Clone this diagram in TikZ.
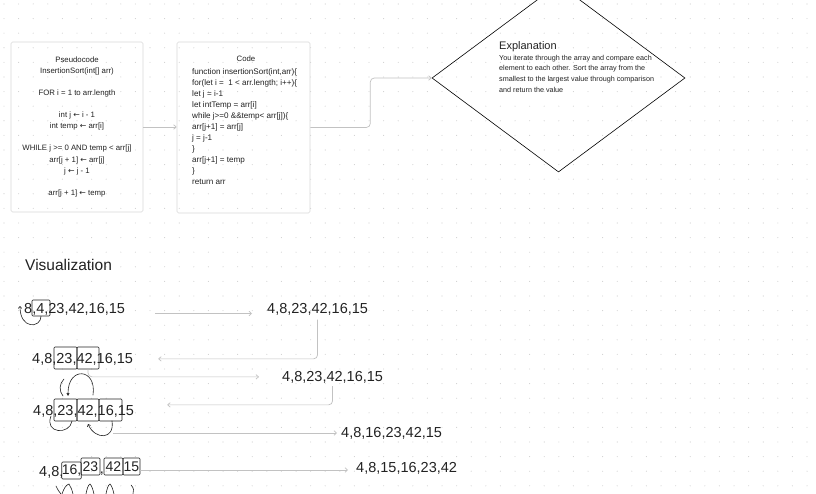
\documentclass[tikz,border=0pt]{standalone}
\usepackage{fontspec}
\setmainfont{Liberation Sans}
\newfontfamily\symfont{DejaVu Sans}
\usetikzlibrary{shapes.geometric,arrows.meta}
\definecolor{conngray}{HTML}{C2C2C2}
\definecolor{dotgray}{HTML}{D0D0D0}
\definecolor{boxgray}{HTML}{DADADA}
\definecolor{ink}{HTML}{222222}
\newcommand{\larr}{{\symfont ←}}
\tikzset{
  connector/.style={draw=conngray, line width=0.7pt, rounded corners=4pt, -{Straight Barb[length=2.5pt,width=4.5pt]}},
  panel/.style={draw=boxgray, line width=0.6pt, rounded corners=1.5pt, minimum width=132pt, minimum height=170pt, inner sep=0pt},
  small/.style={font=\fontsize{7.8}{11.4}\selectfont, text=ink, inner sep=0pt},
  vrow/.style={font=\fontsize{14.5}{16}\selectfont, text=ink, inner sep=0pt, anchor=base west},
  vbox/.style={draw=ink, line width=0.6pt, rounded corners=1pt, inner sep=0pt, font=\fontsize{14}{16}\selectfont, text=ink},
  hand/.style={draw=ink, line width=0.6pt, line cap=round},
  handtip/.style={-{Straight Barb[length=2pt,width=3.5pt]}}
}
\begin{document}
\begin{tikzpicture}[x=1pt,y=-1pt]
\useasboundingbox (0,0) rectangle (816,494);
\clip (0,0) rectangle (816,494);
\fill[white] (0,0) rectangle (816,494);
% dotted grid
\foreach \i in {0,...,55} \foreach \j in {0,...,33}
  \fill[dotgray] ({4+14.6*\i},{4+14.6*\j}) circle (0.55pt);

% Pseudocode panel
\node[panel] (pseudo) at (77,127) {};
\node[small, align=center, anchor=north] (ptext) at (77,56.3)
 {Pseudocode\\InsertionSort(int[] arr)\\[10.6pt]FOR i = 1 to arr.length\\[10.6pt]int j \larr{} i - 1\\int temp \larr{} arr[i]\\[10.6pt]WHILE j >= 0 AND temp < arr[j]\\arr[j + 1] \larr{} arr[j]\\j \larr{} j - 1\\[10.6pt]arr[j + 1] \larr{} temp};

% Code panel
\node[panel, minimum width=133pt, minimum height=171pt] (code) at (243.5,127.5) {};
\node[small, anchor=base] (ctitle) at (246,61.7) {Code};
\node[small, align=left, anchor=north west, font=\fontsize{8.1}{11}\selectfont] (ctext) at (192,68.0)
 {function insertionSort(int,arr)\{\\for(let i =\ \ 1 < arr.length; i++)\{\\let j = i-1\\let intTemp = arr[i]\\while j>=0 \&\&temp< arr[j])\{\\arr[j+1] = arr[j]\\j = j-1\\\}\\arr[j+1] = temp\\\}\\return arr};

% Explanation diamond
\node[draw=black, shape=diamond, minimum width=253pt, minimum height=188pt, inner sep=0pt, line width=0.6pt] (expl) at (558.5,78) {};
\node[anchor=base west, font=\fontsize{11}{13}\selectfont, inner sep=0pt, text=ink] (etitle) at (499,49.5) {Explanation};
\node[anchor=north west, align=left, font=\fontsize{7.2}{10.7}\selectfont, inner sep=0pt, text=ink] (etext) at (499,54.7)
 {You iterate through the array and compare each\\element to each other. Sort the array from the\\smallest to the largest value through comparison\\and return the value};

\draw[connector] (pseudo.east) -- (pseudo.east -| code.west);
\draw[connector] (code.east) -- ++(60,0) |- (expl.west);

% Visualization
\node[anchor=base west, font=\fontsize{15.5}{17}\selectfont, inner sep=0pt, text=ink] (vis) at (25,270) {Visualization};

\node[vrow] (r1a) at (24,313.5) {8,4,23,42,16,15};
\node[vrow] (r1b) at (267,313.5) {4,8,23,42,16,15};
\node[vrow] (r2a) at (32,363) {4,8,23,42,16,15};
\node[vrow] (r2b) at (282,381) {4,8,23,42,16,15};
\node[vrow] (r3a) at (33,415) {4,8,23,42,16,15};
\node[vrow] (r3b) at (341,437) {4,8,16,23,42,15};
\node[vrow] (r4a) at (39,476) {4,8,};
\node[vrow] (r4b) at (356,472) {4,8,15,16,23,42};

% boxes
\node[vbox, minimum width=18pt, minimum height=16pt] (b11) at (41,308) {};
\node[vbox, minimum width=23pt, minimum height=22pt] (b21) at (65.5,358) {};
\node[vbox, minimum width=22pt, minimum height=22pt] (b22) at (88,358) {};
\node[vbox, minimum width=23pt, minimum height=22pt] (b31) at (65.5,410) {};
\node[vbox, minimum width=22pt, minimum height=22pt] (b32) at (88,410) {};
\node[vbox, minimum width=23pt, minimum height=22pt] (b33) at (110.5,410) {};
\node[vbox, minimum width=19pt, minimum height=17pt] (b41) at (71.5,470.5) {16,};
\node[vbox, minimum width=19pt, minimum height=17pt] (b42) at (90.5,466.5) {23};
\node[vrow, anchor=base] (k42) at (102,473) {,};
\node[vbox, minimum width=19pt, minimum height=17pt] (b43) at (113.5,466.5) {42};
\node[vbox, minimum width=17pt, minimum height=17pt] (b44) at (131.5,466.5) {15};

% connectors
\draw[connector, shorten <=30pt, shorten >=15pt] (r1a.base east) -- (r1b.base west);
\draw[connector, shorten <=4pt, shorten >=25pt] (r1b.south) |- (r2a.east);
\draw[connector, shorten >=23pt] (b22.south) |- (r2b.west);
\draw[connector, shorten <=3pt, shorten >=33pt] (r2b.south) |- ([yshift=6pt]r3a.east);
\coordinate (a3s) at (113,433);
\draw[connector, shorten >=4pt] (a3s) -- (a3s -| r3b.west);
\draw[connector, shorten >=8pt] ([yshift=-3.5pt]b44.east) -- ([yshift=-3.5pt]b44.east -| r4b.west);

% hand-drawn marks
\draw[hand, handtip] (b11.south) .. controls (41,328) and (20,330) .. (20,306);
\draw[hand] (64,379) .. controls (59,384) and (59,391) .. (63,396);
\draw[hand, -{Triangle[open,length=3pt,width=3pt]}] (93,395) .. controls (97,368) and (68,366) .. (68,396);
\draw[hand] (72,421) .. controls (70,435) and (44,434) .. (51,416);
\draw[hand, handtip] (112,421) .. controls (115,440) and (95,440) .. (88,424);
\draw[hand] (56,486) .. controls (58,490) and (59,492) .. (61,494);
\draw[hand] (62,494) .. controls (64,488) and (66,485) .. (69,484) .. controls (71,487) and (72,490) .. (73,494);
\draw[hand] (86,494) .. controls (87,489) and (88,485) .. (90,484) .. controls (92,486) and (93,490) .. (94,494);
\draw[hand] (106,494) .. controls (107,489) and (108,485) .. (110,484) .. controls (112,486) and (113,490) .. (114,494);
\draw[hand] (131,485) .. controls (134,488) and (134,491) .. (133,494);
\end{tikzpicture}
\end{document}
